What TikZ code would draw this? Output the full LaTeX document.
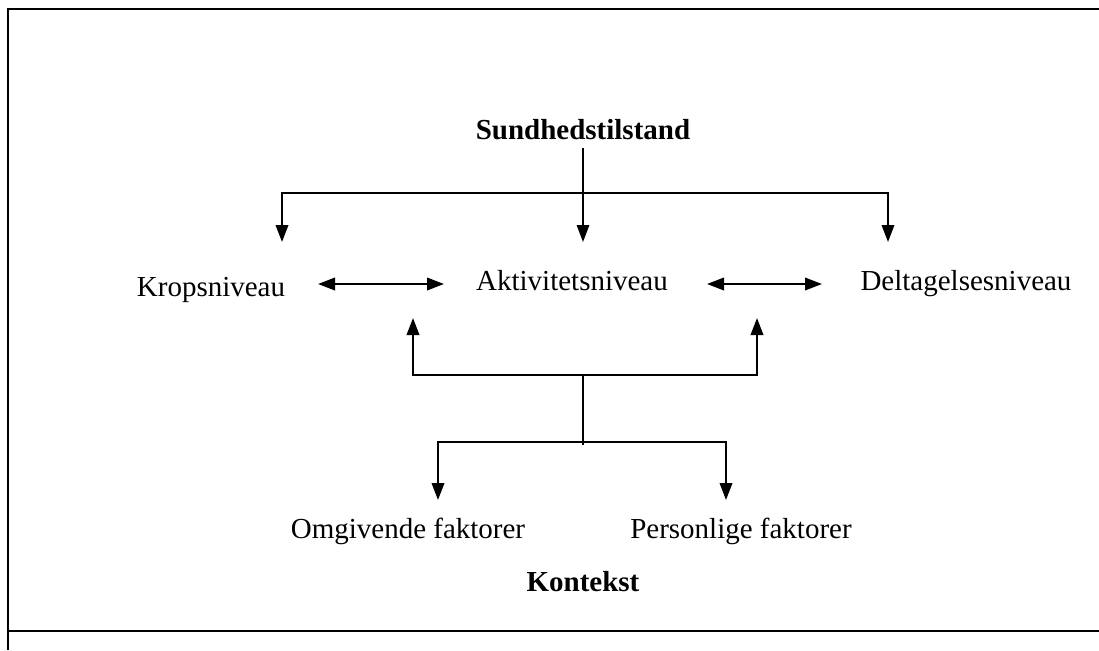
\documentclass[tikz,border=0pt]{standalone}
\usepackage{fontspec}
\setmainfont{Liberation Serif}
\usetikzlibrary{arrows.meta}

\tikzset{
  lbl/.style={anchor=base, inner sep=0pt, font=\fontsize{16.5}{20}\selectfont},
  ttl/.style={anchor=base, inner sep=0pt, font=\fontsize{16.5}{20}\selectfont\bfseries},
  tip/.style={-{Triangle[length=0.34cm,width=0.25cm]}},
  tips/.style={{Triangle[length=0.34cm,width=0.25cm]}-{Triangle[length=0.34cm,width=0.25cm]}},
}

\begin{document}
\begin{tikzpicture}[x=0.02cm, y=-0.02cm, line width=1.15pt]
      \useasboundingbox (0,0) rectangle (1099,650);

      % frame
      \draw[line width=1.4pt] (1099,9) -- (8,9) -- (8,650);
      \draw[line width=1.4pt] (8,631) -- (1099,631);

      \node (sund) [ttl] at (583,139) {Sundhedstilstand};
      \node (krop) [lbl] at (211,296) {Kropsniveau};
      \node (akt)  [lbl] at (572,290) {Aktivitetsniveau};
      \node (delt) [lbl] at (966,290) {Deltagelsesniveau};
      \node (omg)  [lbl] at (408,538) {Omgivende faktorer};
      \node (pers) [lbl] at (741,538) {Personlige faktorer};
      \node (kont) [ttl] at (583,591) {Kontekst};

      \coordinate (s0) at (583,148);
      \coordinate (s1) at (583,242);
      \coordinate (hl) at (282,193);
      \coordinate (hr) at (888,193);
      \coordinate (kl) at (282,242);
      \coordinate (dr) at (888,242);

      \coordinate (p1) at (318,284);
      \coordinate (p2) at (444,284);
      \coordinate (q1) at (707,284);
      \coordinate (q2) at (822,284);

      \coordinate (u1) at (413,318);
      \coordinate (b1) at (413,375);
      \coordinate (b2) at (757,375);
      \coordinate (u2) at (757,318);
      \coordinate (m0) at (583,375);
      \coordinate (m1) at (583,445);
      \coordinate (c1) at (438,442);
      \coordinate (c2) at (726,442);
      \coordinate (o1) at (438,500);
      \coordinate (o2) at (726,500);

      \draw[tip, line width=0.9pt] (s0) -- (s1);
      \draw[tips] (kl) -- (hl) -- (hr) -- (dr);

      \draw[tips] (p1) -- (p2);
      \draw[tips] (q1) -- (q2);

      \draw[tips] (u1) -- (b1) -- (b2) -- (u2);
      \draw[line width=0.9pt] (m0) -- (m1);
      \draw[tips] (o1) -- (c1) -- (c2) -- (o2);
\end{tikzpicture}
\end{document}
